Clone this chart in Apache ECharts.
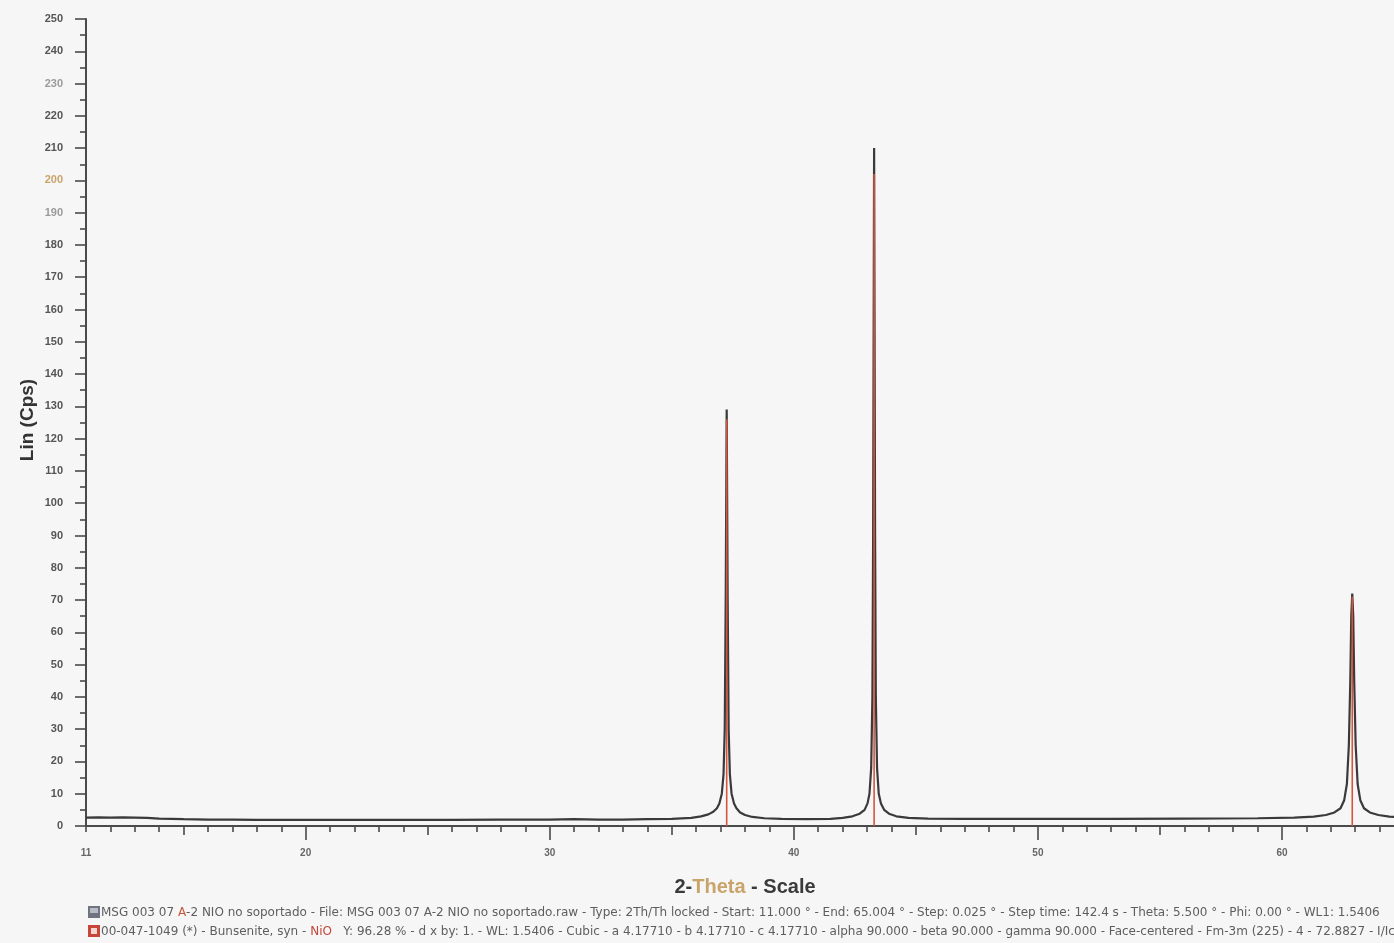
<!DOCTYPE html>
<html>
<head>
<meta charset="utf-8">
<script src="https://cdn.jsdelivr.net/npm/echarts@6/dist/echarts.min.js"></script>
<style>
html,body{margin:0;padding:0;background:#f6f6f6;}
#chart{width:1394px;height:943px;}
</style>
</head>
<body>
<div id="chart"></div>
<script>
// ---- data ----
// measured diffraction pattern [2-theta (deg), intensity (Cps)]
const patternPoints = [
  [11.0,2.6],[11.5,2.7],[12.0,2.6],[12.5,2.7],[13.0,2.6],[13.5,2.5],[14.0,2.3],[15.0,2.1],
  [16.0,2.0],[17.0,2.0],[18.0,1.9],[19.0,1.9],[20.0,1.9],[22.0,1.9],[24.0,1.9],[26.0,1.9],
  [28.0,2.0],[30.0,2.0],[31.0,2.1],[32.0,2.0],[33.0,2.0],[34.0,2.1],[35.0,2.2],[35.8,2.5],
  [36.2,3.0],[36.5,3.6],[36.7,4.4],[36.85,5.5],[36.95,7],[37.05,10],[37.12,16],[37.17,30],
  [37.21,70],[37.25,129],[37.29,70],[37.33,30],[37.38,16],[37.45,10],[37.55,7],[37.65,5.5],
  [37.8,4.2],[38.0,3.4],[38.3,2.8],[38.8,2.4],[39.5,2.2],[40.5,2.1],[41.5,2.2],[42.0,2.5],
  [42.4,3.0],[42.7,3.8],[42.9,5],[43.02,7],[43.1,10],[43.17,18],[43.22,40],[43.25,90],
  [43.29,210],[43.33,90],[43.36,40],[43.41,18],[43.48,10],[43.57,7],[43.7,5],[43.9,3.8],
  [44.2,3.0],[44.7,2.5],[45.5,2.3],[47.0,2.2],[50.0,2.2],[53.0,2.2],[56.0,2.3],[59.0,2.4],
  [60.5,2.6],[61.3,2.9],[61.8,3.4],[62.15,4.2],[62.4,5.5],[62.55,8],[62.66,13],[62.74,25],
  [62.8,45],[62.84,65],[62.88,72],[62.92,65],[62.96,45],[63.02,25],[63.1,13],[63.21,8],
  [63.36,5.5],[63.6,4.2],[63.95,3.4],[64.4,2.9],[65.0,2.6]
];
// reference card 00-047-1049 NiO sticks
const stickPositions = [37.25, 43.29, 62.88];
const stickHeights = [126, 202, 71];

// axis ticks / labels
const xMin = 11, xMax = 65;
const yMin = 0, yMax = 250;
const xLabelValues = [11, 20, 30, 40, 50, 60];
const xMinorTicks = [11,12,13,14,16,17,18,19,21,22,23,24,26,27,28,29,31,32,33,34,36,37,38,39,41,42,43,44,46,47,48,49,51,52,53,54,56,57,58,59,61,62,63,64];
const xMediumTicks = [15, 25, 35, 45, 55, 65];
const xMajorTicks = [20, 30, 40, 50, 60];

const footerLine1 = ['MSG 003 07 ', 'A', '-2 NIO no soportado - File: MSG 003 07 A-2 NIO no soportado.raw - Type: 2Th/Th locked - Start: 11.000 ° - End: 65.004 ° - Step: 0.025 ° - Step time: 142.4 s - Theta: 5.500 ° - Phi: 0.00 ° - WL1: 1.5406'];
const footerLine2 = ['00-047-1049 (*) - Bunsenite, syn - ', 'NiO', '   Y: 96.28 % - d x by: 1. - WL: 1.5406 - Cubic - a 4.17710 - b 4.17710 - c 4.17710 - alpha 90.000 - beta 90.000 - gamma 90.000 - Face-centered - Fm-3m (225) - 4 - 72.8827 - I/Ic PDF 4.4 -'];

// ---- chart ----
const chart = echarts.init(document.getElementById('chart'));
const FONT = '"Liberation Sans", Arial, sans-serif';
const FOOT_FONT = '"DejaVu Sans", sans-serif';
const axisColor = '#4a4a4a';
const gridLeft = 86, gridWidth = 1318, gridTop = 19, gridHeight = 807;

function overlayX(ticks, len) {
  return {
    type: 'value', min: xMin, max: xMax, gridIndex: 0, position: 'bottom', offset: 0,
    axisLine: {show: false, onZero: false},
    axisTick: {show: true, customValues: ticks, length: len, lineStyle: {color: axisColor, width: 1.6}},
    axisLabel: {show: false}, splitLine: {show: false}
  };
}

const option = {
  backgroundColor: '#f6f6f6',
  animation: false,
  grid: {left: gridLeft, top: gridTop, width: gridWidth, height: gridHeight, outerBoundsMode: 'none', containLabel: false},
  xAxis: [
    {
      type: 'value', min: xMin, max: xMax, position: 'bottom',
      axisLine: {show: true, onZero: false, lineStyle: {color: axisColor, width: 2}},
      axisTick: {show: true, customValues: xMinorTicks, length: 6, lineStyle: {color: axisColor, width: 1.6}},
      axisLabel: {
        show: true, customValues: xLabelValues, margin: 22,
        fontFamily: FONT, fontSize: 10, fontWeight: 'bold', color: '#666'
      },
      splitLine: {show: false}
    },
    overlayX(xMediumTicks, 9),
    overlayX(xMajorTicks, 14)
  ],
  yAxis: {
    type: 'value', min: yMin, max: yMax, interval: 10,
    axisLine: {show: true, onZero: false, lineStyle: {color: axisColor, width: 2}},
    axisTick: {show: true, length: 11, lineStyle: {color: axisColor, width: 1.6}},
    minorTick: {show: true, splitNumber: 2, length: 6, lineStyle: {color: axisColor, width: 1.6}},
    axisLabel: {
      margin: 23, fontFamily: FONT, fontSize: 11, fontWeight: 'bold', color: '#555',
      formatter: function (v) {
        if (v === 200) return '{tan|' + v + '}';
        if (v === 230 || v === 190) return '{pale|' + v + '}';
        return '' + v;
      },
      rich: {
        tan: {color: '#c9a46a', fontFamily: FONT, fontSize: 11, fontWeight: 'bold'},
        pale: {color: '#9a9a9a', fontFamily: FONT, fontSize: 11, fontWeight: 'bold'}
      }
    },
    splitLine: {show: false}
  },
  series: [
    {
      type: 'line', data: patternPoints, showSymbol: false, smooth: false,
      lineStyle: {color: '#3a3a3a', width: 2.2}, z: 3
    },
    {
      type: 'bar', data: stickPositions.map((p, i) => [p, stickHeights[i]]),
      barWidth: 1.6, itemStyle: {color: '#d4553f'}, z: 4
    }
  ],
  graphic: [
    {
      type: 'text', x: 28, y: 420, rotation: Math.PI / 2,
      style: {text: 'Lin (Cps)', font: 'bold 19px ' + FONT, fill: '#333', textAlign: 'center', textVerticalAlign: 'middle'}
    },
    {
      type: 'text', x: 745, y: 887,
      style: {
        text: '{a|2-}{b|Theta}{a| - Scale}', textAlign: 'center', textVerticalAlign: 'middle',
        rich: {
          a: {fontFamily: FONT, fontSize: 20, fontWeight: 'bold', fill: '#3a3a3a', color: '#3a3a3a'},
          b: {fontFamily: FONT, fontSize: 20, fontWeight: 'bold', fill: '#c9a46a', color: '#c9a46a'}
        }
      }
    },
    {type: 'rect', shape: {x: 88, y: 906, width: 12, height: 12}, style: {fill: '#6f7480'}},
    {type: 'rect', shape: {x: 90, y: 908, width: 8, height: 5}, style: {fill: '#b8bcc6'}},
    {type: 'rect', shape: {x: 88, y: 925, width: 12, height: 12}, style: {fill: '#c8453a'}},
    {type: 'rect', shape: {x: 91, y: 928, width: 6, height: 6}, style: {fill: '#f3d6d2'}},
    {
      type: 'text', x: 101, y: 913,
      style: {
        text: '{g|' + footerLine1[0] + '}{r|' + footerLine1[1] + '}{g|' + footerLine1[2] + '}',
        textVerticalAlign: 'middle',
        rich: {
          g: {fontFamily: FOOT_FONT, fontSize: 12, color: '#5e5e5e', fill: '#5e5e5e'},
          r: {fontFamily: FOOT_FONT, fontSize: 12, color: '#c8553a', fill: '#c8553a'}
        }
      }
    },
    {
      type: 'text', x: 101, y: 932,
      style: {
        text: '{g|' + footerLine2[0] + '}{r|' + footerLine2[1] + '}{g|' + footerLine2[2] + '}',
        textVerticalAlign: 'middle',
        rich: {
          g: {fontFamily: FOOT_FONT, fontSize: 12, color: '#5e5e5e', fill: '#5e5e5e'},
          r: {fontFamily: FOOT_FONT, fontSize: 12, color: '#c8453a', fill: '#c8453a'}
        }
      }
    }
  ]
};
chart.setOption(option);
</script>
</body>
</html>
